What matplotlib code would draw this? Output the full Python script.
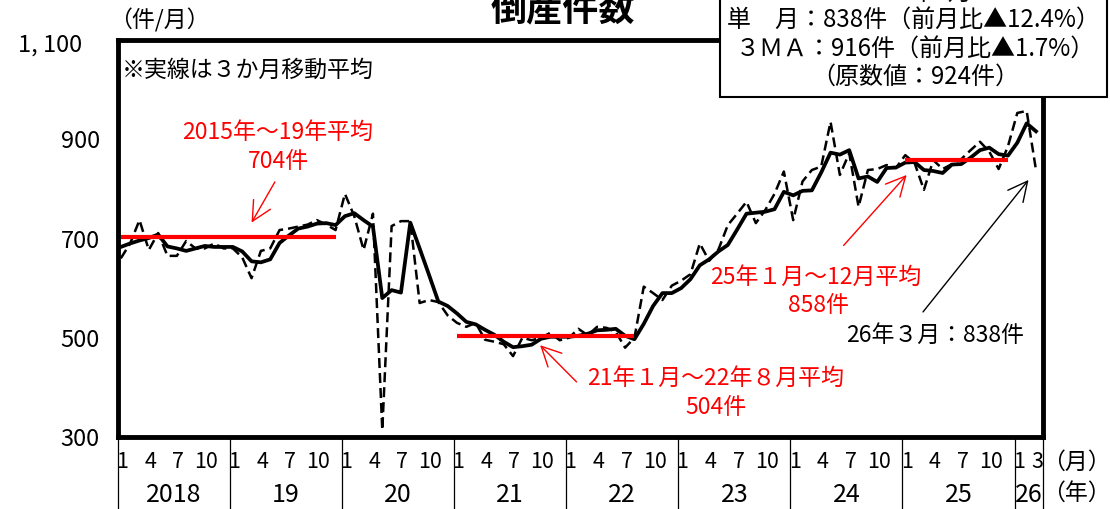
import numpy as np
import matplotlib
matplotlib.use("Agg")
import matplotlib.pyplot as plt
from matplotlib.patches import Rectangle
from matplotlib.lines import Line2D

plt.rcParams['font.family'] = ['Noto Sans CJK JP', 'DejaVu Sans']

# ---------------- data ----------------
years = ['2018', '19', '20', '21', '22', '23', '24', '25', '26']
month_ticks = ['1', '4', '7', '10']

# monthly bankruptcies (dashed line), Jan 2018 - Mar 2026
monthly = [
    660, 690, 737, 677, 711, 665, 665, 695, 680, 680, 690, 680,   # 2018
    680, 662, 620, 675, 680, 717, 720, 724, 728, 737, 728, 717,   # 2019
    790, 745, 677, 750, 314, 725, 735, 735, 570, 576, 572, 545,   # 2020
    530, 522, 530, 496, 492, 487, 463, 500, 495, 500, 510, 495,   # 2021
    500, 518, 505, 522, 520, 512, 480, 500, 603, 590, 576, 605,   # 2022
    615, 628, 690, 655, 678, 727, 750, 774, 731, 757, 790, 835,   # 2023
    737, 815, 838, 845, 935, 828, 872, 764, 838, 840, 848, 842,   # 2024
    868, 852, 798, 858, 840, 850, 860, 878, 895, 875, 840, 886,   # 2025
    953, 957, 838,                                                # 2026
]

# 3-month moving average (solid line)
ma3 = [
    683, 690, 696, 701, 708, 684, 680, 675, 680, 685, 683, 683,   # 2018
    683, 674, 654, 652, 658, 691, 706, 720, 724, 730, 731, 727,   # 2019
    745, 751, 737, 724, 580, 596, 591, 732, 680, 627, 573, 564,   # 2020
    549, 532, 527, 516, 506, 492, 481, 483, 486, 498, 502, 502,   # 2021
    502, 504, 508, 515, 516, 518, 504, 497, 528, 564, 590, 590,   # 2022
    600, 618, 646, 658, 674, 687, 718, 750, 752, 754, 759, 794,   # 2023
    787, 796, 797, 833, 873, 869, 878, 821, 825, 814, 842, 843,   # 2024
    853, 854, 838, 836, 832, 849, 850, 863, 878, 883, 870, 867,   # 2025
    893, 932, 916,                                                # 2026
]

# period averages: (value, first month index, last month index)
avg_values = [704, 504, 858]
avg_start = [0, 36, 84]
avg_end = [23, 55, 95]

y_ticks = [300, 500, 700, 900]

# ---------------- figure ----------------
W, H = 1110, 509
fig = plt.figure(figsize=(W / 100, H / 100), dpi=100)


def fx(x):
    return x / W


def fy(y):
    return 1 - y / H


L, R, T, B = 118, 1043, 40, 437
ax = fig.add_axes([fx(L), fy(B), (R - L) / W, (B - T) / H])

x = np.arange(len(monthly))
ax.plot(x, monthly, color='black', lw=1.8, ls=(0, (4, 2)), zorder=3)
ax.plot(x, ma3, color='black', lw=2.7, zorder=4)
for v, s, e in zip(avg_values, avg_start, avg_end):
    ax.hlines(v, s, e, color='#ff0000', lw=3.0, zorder=5)

ax.set_xlim(-0.3, 98.75)
ax.set_ylim(300, 1100)
for sp in ax.spines.values():
    sp.set_linewidth(3.5)
    sp.set_color('black')
ax.set_xticks([])
ax.set_yticks(y_ticks)
ax.set_yticklabels([str(v) for v in y_ticks], fontsize=17)
ax.tick_params(axis='y', length=0, pad=13)

fs = 16.5
fig.text(fx(50), fy(45), '1, 100', fontsize=17, ha='center', va='center')
fig.text(fx(159), fy(20), '（件/月）', fontsize=fs, ha='center', va='center')

# x axis: month labels, year labels, separators
xt = ax.get_xaxis_transform()
y_month = -(462 - B) / (B - T)
y_year = -(495 - B) / (B - T)
y_bot = -(H - B) / (B - T)
n = len(monthly)
for k, yl in enumerate(years):
    start = 12 * k
    for j, m in enumerate([0, 3, 6, 9]):
        idx = start + m
        if idx < n:
            ax.text(idx + 0.15, y_month, month_ticks[j], transform=xt, fontsize=15.5,
                    ha='center', va='center')
    end = min(start + 12, n)
    ax.text((start - 0.3 + end - 0.3) / 2 if end < n else (start - 0.3 + 98.75) / 2,
            y_year, yl, transform=xt, fontsize=18, ha='center', va='center')
    ax.add_line(Line2D([start - 0.3, start - 0.3], [0, y_bot], transform=xt,
                       color='black', lw=0.9, clip_on=False))
# 2026 "3" label
ax.text(98 + 0.1, y_month, '3', transform=xt, fontsize=15.5, ha='center', va='center')
ax.add_line(Line2D([98.75, 98.75], [0, y_bot], transform=xt,
                   color='black', lw=0.9, clip_on=False))
fig.text(fx(1076), fy(462), '（月）', fontsize=fs, ha='center', va='center')
fig.text(fx(1076), fy(493), '（年）', fontsize=fs, ha='center', va='center')

# note
fig.text(fx(122), fy(70), '※実線は３か月移動平均', fontsize=fs, ha='left', va='center')

# annotations
red = '#ff0000'
fig.text(fx(278), fy(132), '2015年～19年平均', fontsize=fs, color=red, ha='center', va='center')
fig.text(fx(278), fy(162), '704件', fontsize=fs, color=red, ha='center', va='center')
fig.text(fx(816), fy(277), '25年１月～12月平均', fontsize=fs, color=red, ha='center', va='center')
fig.text(fx(818), fy(305), '858件', fontsize=fs, color=red, ha='center', va='center')
fig.text(fx(716), fy(378), '21年１月～22年８月平均', fontsize=fs, color=red, ha='center', va='center')
fig.text(fx(716), fy(407), '504件', fontsize=fs, color=red, ha='center', va='center')
fig.text(fx(935), fy(335), '26年３月：838件', fontsize=fs, color='black', ha='center', va='center')

aprops = dict(arrowstyle='->,head_length=0.7,head_width=0.35', lw=1.0,
              mutation_scale=20, shrinkA=0, shrinkB=0)
ax.annotate('', xy=(14.0, 732), xytext=(16.5, 814),
            arrowprops=dict(color=red, **aprops), annotation_clip=False)
ax.annotate('', xy=(44.9, 485), xytext=(48.8, 411),
            arrowprops=dict(color=red, **aprops), annotation_clip=False)
ax.annotate('', xy=(84.15, 828), xytext=(77.4, 686),
            arrowprops=dict(color=red, **aprops), annotation_clip=False)
ax.annotate('', xy=(97.2, 818), xytext=(85.9, 552),
            arrowprops=dict(color='black', **aprops), annotation_clip=False)

# title (partially cropped at top)
fig.text(fx(563), fy(21), '倒産件数', fontsize=26, fontweight='bold',
         ha='center', va='baseline')

# info box
box = Rectangle((fx(720), fy(97)), (1107 - 720) / W, (97 + 20) / H,
                transform=fig.transFigure, facecolor='white', edgecolor='black',
                lw=1.5, zorder=5)
fig.add_artist(box)
fs2 = 17.3
fig.text(fx(915), fy(-7), '2026年3月', fontsize=fs2, ha='center', va='center', zorder=6)
fig.text(fx(913), fy(21), '単　月：838件（前月比▲12.4%）', fontsize=fs2, ha='center',
         va='center', zorder=6)
fig.text(fx(915), fy(50), '３ＭＡ：916件（前月比▲1.7%）', fontsize=fs2, ha='center',
         va='center', zorder=6)
fig.text(fx(915), fy(77), '（原数値：924件）', fontsize=fs2, ha='center', va='center', zorder=6)

fig.savefig('out.png', dpi=100)
